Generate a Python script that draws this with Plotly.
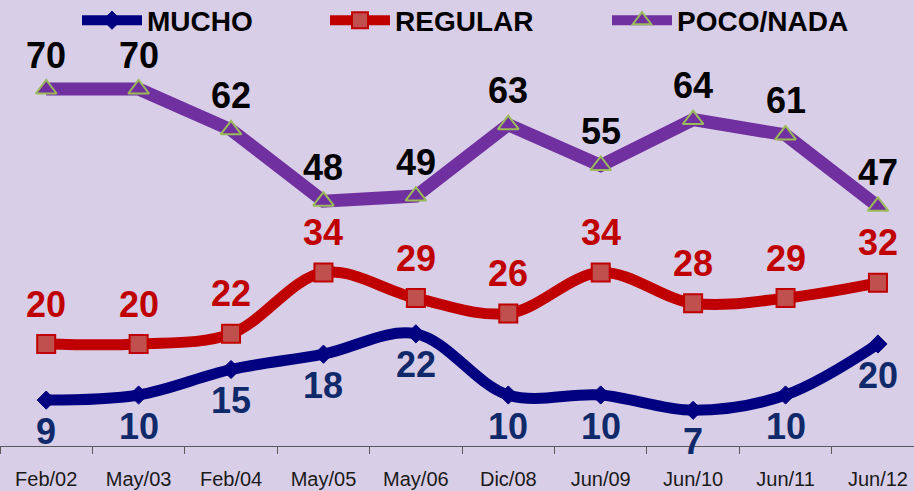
import plotly.graph_objects as go

categories = ["Feb/02", "May/03", "Feb/04", "May/05", "May/06",
              "Dic/08", "Jun/09", "Jun/10", "Jun/11", "Jun/12"]
mucho = [9, 10, 15, 18, 22, 10, 10, 7, 10, 20]
regular = [20, 20, 22, 34, 29, 26, 34, 28, 29, 32]
poco_nada = [70, 70, 62, 48, 49, 63, 55, 64, 61, 47]

BG = "#D9CEE7"
FONT = "Liberation Sans, Arial, sans-serif"

series = [
    dict(name="MUCHO", y=mucho, color="#000080", symbol="diamond", msize=14,
         mfill="#000080", mline="#000080", mlw=1, width=11, shape="spline",
         lcolor="#10296A", shift=-31, legend="legend"),
    dict(name="REGULAR", y=regular, color="#C00000", symbol="square", msize=18,
         mfill="#C0504D", mline="#C00000", mlw=2, width=11, shape="spline",
         lcolor="#C00000", shift=40, legend="legend2"),
    dict(name="POCO/NADA", y=poco_nada, color="#7030A0", symbol="triangle-up", msize=18,
         mfill="#7030A0", mline="#9BBB59", mlw=2, width=13, shape="linear",
         lcolor="#000000", shift=34, legend="legend3"),
]

fig = go.Figure()
annotations = []
for s in series:
    fig.add_trace(go.Scatter(
        x=categories, y=s["y"], name=s["name"], mode="lines+markers",
        line=dict(color=s["color"], width=s["width"], shape=s["shape"], smoothing=1),
        marker=dict(symbol=s["symbol"], size=s["msize"], color=s["mfill"],
                    line=dict(color=s["mline"], width=s["mlw"])),
        cliponaxis=False, legend=s["legend"], hoverinfo="skip",
    ))
    for c, v in zip(categories, s["y"]):
        annotations.append(dict(
            x=c, y=v, xref="x", yref="y", text=str(v), showarrow=False,
            yshift=s["shift"], font=dict(family=FONT, size=36, color=s["lcolor"], weight="bold"),
        ))

leg_common = dict(orientation="h", xanchor="left", yanchor="middle", y=0.954,
                  itemwidth=60, bgcolor="rgba(0,0,0,0)", borderwidth=0,
                  font=dict(family=FONT, size=28, color="#000000", weight="bold"))

fig.update_layout(
    width=914, height=491,
    margin=dict(l=0, r=0, t=0, b=45, autoexpand=False),
    paper_bgcolor=BG, plot_bgcolor=BG,
    showlegend=True,
    legend=dict(x=77 / 914, **leg_common),
    legend2=dict(x=325 / 914, **leg_common),
    legend3=dict(x=607 / 914, **leg_common),
    annotations=annotations,
    xaxis=dict(type="category", categoryorder="array", categoryarray=categories,
               range=[-0.5, 9.39], showline=True, linecolor="#595959", linewidth=1,
               ticks="outside", tickson="boundaries", ticklen=7, tickcolor="#595959",
               ticklabelstandoff=15,
               tickfont=dict(family=FONT, size=20, color="#1A1A1A"),
               showgrid=False, zeroline=False, fixedrange=True),
    yaxis=dict(range=[0, 87.45], visible=False, fixedrange=True),
)

fig.write_html("out.html", config={"displayModeBar": False},
               post_script="document.body.style.margin='0';document.body.style.padding='0';")
